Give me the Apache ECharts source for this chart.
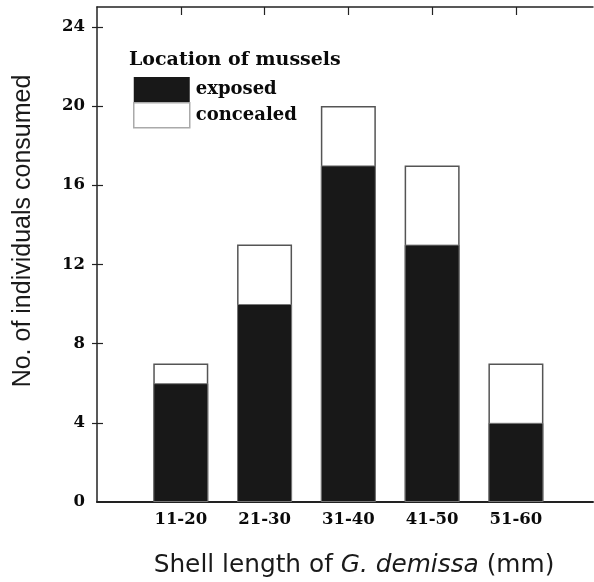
<!DOCTYPE html>
<html>
<head>
<meta charset="utf-8">
<script src="https://cdn.jsdelivr.net/npm/echarts@6/dist/echarts.min.js"></script>
<style>
html,body{margin:0;padding:0;background:#fff;}
#chart{width:594px;height:582px;}
</style>
</head>
<body>
<div id="chart"></div>
<script>
// ---- data ----
var categories = ['11-20', '21-30', '31-40', '41-50', '51-60'];
var exposed = [6, 10, 17, 13, 4];
var concealed = [1, 3, 3, 4, 3];
var yTicks = [0, 4, 8, 12, 16, 20, 24];
var seriesNames = ['exposed', 'concealed'];
var legendTitle = 'Location of mussels';
var yAxisTitle = 'No. of individuals consumed';

// ---- build ----
var positions = categories.map(function (c, i) { return i + 1; });
var exposedData = positions.map(function (p, i) { return [p, exposed[i]]; });
// concealed bars sit on top of exposed: draw them from 0 to (exposed + concealed) behind the exposed bars
var totalData = positions.map(function (p, i) { return [p, exposed[i] + concealed[i]]; });
var innerTicks = yTicks.filter(function (v) { return v > 0; });

var serif = 'DejaVu Serif';
var chart = echarts.init(document.getElementById('chart'), null, { renderer: 'canvas' });

var option = {
  animation: false,
  backgroundColor: '#ffffff',
  grid: { left: 97, right: 1, top: 7, bottom: 80, containLabel: false },
  title: {
    text: legendTitle,
    left: 124, top: 46,
    textStyle: { fontFamily: serif, fontWeight: 'bold', fontSize: 19, color: '#0a0a0a' }
  },
  legend: {
    orient: 'vertical',
    left: 133, top: 77,
    itemWidth: 56, itemHeight: 25, itemGap: 0,
    padding: 0,
    icon: 'rect',
    data: [
      { name: seriesNames[0], itemStyle: { borderWidth: 0 } },
      { name: seriesNames[1], itemStyle: { borderColor: '#aaa', borderWidth: 1.5 } }
    ],
    textStyle: { fontFamily: serif, fontWeight: 'bold', fontSize: 18, color: '#0a0a0a', padding: [0, 0, 0, 1] }
  },
  xAxis: [{
    type: 'value', min: 0, max: 5.92, interval: 1, position: 'bottom',
    splitLine: { show: false },
    axisLine: { show: true, lineStyle: { color: '#222', width: 2 } },
    axisTick: { show: false },
    axisLabel: {
      customValues: positions,
      margin: 9,
      fontFamily: serif, fontWeight: 'bold', fontSize: 16.5, color: '#0a0a0a',
      formatter: function (v) { return categories[Math.round(v) - 1] || ''; }
    }
  }, {
    type: 'value', min: 0, max: 5.92, interval: 1, position: 'top',
    splitLine: { show: false },
    axisLine: { show: true, onZero: false, lineStyle: { color: '#222', width: 1.5 } },
    axisTick: { show: true, inside: true, length: 8, customValues: positions, lineStyle: { color: '#222', width: 1.2 } },
    axisLabel: { show: false }
  }],
  yAxis: [{
    type: 'value', min: 0, max: 25, interval: 4, position: 'left',
    splitLine: { show: false },
    axisLine: { show: true, onZero: false, lineStyle: { color: '#222', width: 1.5 } },
    axisTick: { show: true, inside: true, length: 6, customValues: innerTicks, lineStyle: { color: '#222', width: 1.2 } },
    axisLabel: {
      customValues: yTicks,
      margin: 12,
      fontFamily: serif, fontWeight: 'bold', fontSize: 16.5, color: '#0a0a0a'
    }
  }, {
    type: 'value', min: 0, max: 25, interval: 4, position: 'right',
    splitLine: { show: false },
    axisLine: { show: false },
    axisTick: { show: true, inside: true, length: 5, customValues: innerTicks, lineStyle: { color: '#222', width: 1.2 } },
    axisLabel: { show: false }
  }],
  graphic: [{
    type: 'text',
    x: 23, y: 231,
    rotation: Math.PI / 2,
    style: {
      text: yAxisTitle,
      fontFamily: 'Liberation Sans', fontSize: 25, fill: '#1a1a1a',
      align: 'center', verticalAlign: 'middle'
    }
  }, {
    type: 'text',
    x: 354, y: 566,
    style: {
      text: 'Shell length of {i|G. demissa} (mm)',
      fontFamily: 'DejaVu Sans', fontSize: 24.8, fill: '#1a1a1a',
      align: 'center', verticalAlign: 'middle',
      rich: { i: { fontFamily: 'DejaVu Sans', fontStyle: 'italic', fontSize: 24.8, fill: '#1a1a1a' } }
    }
  }],
  series: [{
    name: seriesNames[1],
    type: 'bar', xAxisIndex: 0, yAxisIndex: 0,
    barWidth: 55, barGap: '-100%', z: 2,
    data: totalData,
    itemStyle: { color: '#ffffff', borderColor: '#555', borderWidth: 1.5 }
  }, {
    name: seriesNames[0],
    type: 'bar', xAxisIndex: 0, yAxisIndex: 0,
    barWidth: 55, barGap: '-100%', z: 3,
    data: exposedData,
    itemStyle: { color: '#181818', borderColor: '#777', borderWidth: 1 }
  }]
};
chart.setOption(option);
</script>
</body>
</html>
